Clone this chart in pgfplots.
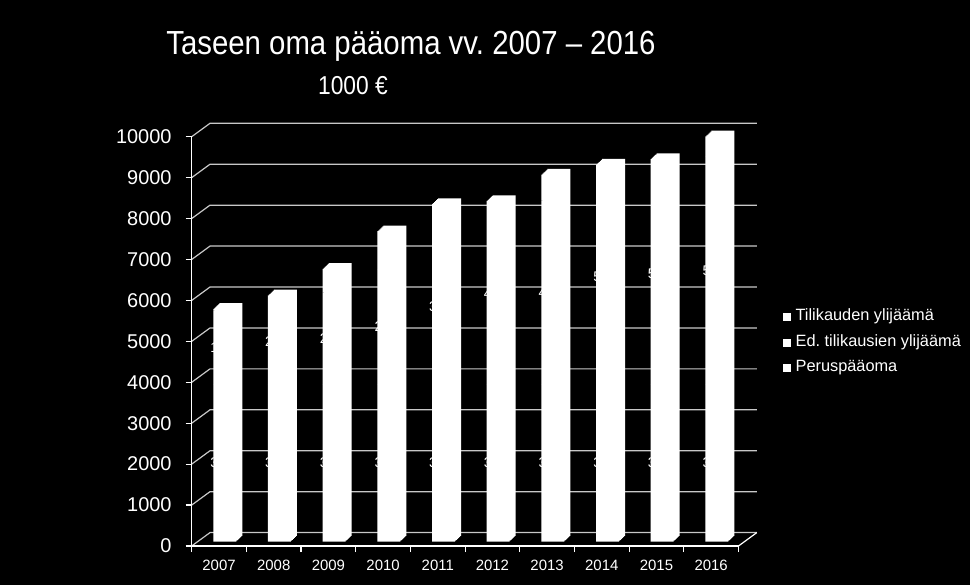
\documentclass[border=0pt]{standalone}
\usepackage{fontspec}
\setmainfont{Liberation Sans}
\newfontfamily\titlefont[FakeStretch=0.88]{Liberation Sans}
\usepackage{pgfplots}
\usepackage{pgfplotstable}
\pgfplotsset{compat=1.18}
\definecolor{gridc}{RGB}{200,200,200}
\pgfplotstableread{
i P E T
0 3850 1800 40
1 3850 2060 107
2 3850 2240 576
3 3850 2790 945
4 3850 3770 631
5 3850 4400 74
6 3850 4490 628
7 3850 5230 132
8 3850 5400 99
9 3850 5550 502
}\datatable
\begin{document}
\begin{tikzpicture}
\fill[black] (0bp,0bp) rectangle (970bp,585bp);
\node[anchor=base, text=white, inner sep=0pt, font=\titlefont\fontsize{33.5}{40}\selectfont] at (411bp,530bp) {Taseen oma pääoma vv.~2007 – 2016};
\node[anchor=base, text=white, inner sep=0pt, font=\titlefont\fontsize{26}{30}\selectfont] at (353bp,490bp) {1000 €};
% back wall, grid, data labels, sweep of bars, year labels, legend
\begin{axis}[at={(191.7bp,39bp)}, anchor=south west, scale only axis,
  width=546.8bp, height=409.3bp, xmin=-0.5, xmax=9.5, ymin=0, ymax=10000,
  axis line style={draw=none}, ytick=\empty,
  xtick={0,1,2,3,4,5,6,7,8,9},
  xticklabels={2007,2008,2009,2010,2011,2012,2013,2014,2015,2016},
  major tick length=0pt,
  xticklabel style={text=white, font=\fontsize{15}{18}\selectfont, anchor=base, inner sep=0pt, yshift=-24bp},
  clip=false,
  legend style={at={(1.0814,0.4977)}, anchor=west, draw=none, fill=none,
    text=white, font=\fontsize{16.4}{19}\selectfont, inner sep=0pt,
    nodes={inner sep=0pt, text height=12bp, text depth=4bp},
    row sep=9.5bp, column sep=5bp},
  legend cell align=left]
\pgfplotsinvokeforeach{0,1000,...,10000}{
  \draw[gridc, line width=1.2bp] (axis cs:-0.5,#1) -- ++(18.3bp,13.4bp) -- ([xshift=18.3bp,yshift=13.4bp]axis cs:9.5,#1);
}
% data labels (white on white, hidden behind the bars but for their left edges)
\addplot[forget plot, draw=none, mark=none, nodes near coords, point meta=explicit symbolic,
  nodes near coords style={anchor=west, text=white, font=\fontsize{14}{17}\selectfont, inner sep=0pt, xshift=-8.75bp, yshift=4.3bp}]
  table[x=i, y expr=\thisrow{P}/2, meta=P] {\datatable};
\addplot[forget plot, draw=none, mark=none, nodes near coords, point meta=explicit symbolic,
  nodes near coords style={anchor=west, text=white, font=\fontsize{14}{17}\selectfont, inner sep=0pt, xshift=-8.75bp, yshift=4.3bp}]
  table[x=i, y expr=\thisrow{P}+\thisrow{E}/2, meta=E] {\datatable};
\pgfplotsinvokeforeach{1,2,3,4,5,6}{
  \addplot[forget plot, ybar, bar width=23bp, bar shift=5.75bp, fill=white, draw=none,
    xshift=#1bp, yshift={4.3bp+0.95bp*#1}]
    table[x=i, y expr=\thisrow{P}+\thisrow{E}+\thisrow{T}] {\datatable};
}
\addlegendimage{legend image code/.code={\fill[white] (0bp,-3.5bp) rectangle (7bp,3.5bp);}}
\addlegendentry{Tilikauden ylijäämä}
\addlegendimage{legend image code/.code={\fill[white] (0bp,-3.5bp) rectangle (7bp,3.5bp);}}
\addlegendentry{Ed.\ tilikausien ylijäämä}
\addlegendimage{legend image code/.code={\fill[white] (0bp,-3.5bp) rectangle (7bp,3.5bp);}}
\addlegendentry{Peruspääoma}
\end{axis}
% front faces, axes
\begin{axis}[at={(191.7bp,39bp)}, anchor=south west, scale only axis,
  width=546.8bp, height=409.3bp, xmin=-0.5, xmax=9.5, ymin=0, ymax=10000,
  ybar stacked, bar width=23bp, bar shift=5.75bp,
  axis x line*=bottom, axis y line*=left,
  axis line style={white, line width=1.2bp, -},
  xtick={-0.5,0.5,1.5,2.5,3.5,4.5,5.5,6.5,7.5,8.5,9.5}, xticklabel={},
  ytick={0,1000,...,10000}, scaled y ticks=false,
  tick style={white, line width=1.2bp}, tick align=outside, major tick length=6bp,
  yticklabel style={text=white, font=\fontsize{20}{24}\selectfont, anchor=east, inner sep=0pt, xshift=-14bp},
  /pgf/number format/assume math mode=true,
  /pgf/number format/set thousands separator={},
  clip=false]
\addplot[fill=white, draw=none, yshift=4.3bp] table[x=i, y=P] {\datatable};
\addplot[fill=white, draw=none, yshift=4.3bp] table[x=i, y=E] {\datatable};
\addplot[fill=white, draw=none, yshift=4.3bp] table[x=i, y=T] {\datatable};
\draw[white, line width=1.2bp] (axis cs:9.5,0) -- ++(18.3bp,13.4bp);
\end{axis}
\end{tikzpicture}
\end{document}
